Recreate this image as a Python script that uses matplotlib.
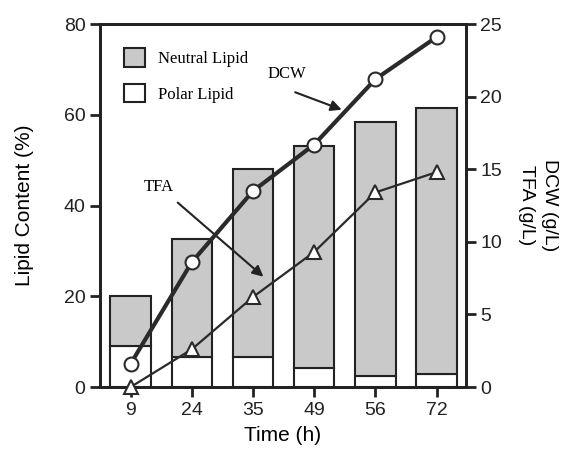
import matplotlib
matplotlib.use("Agg")
import matplotlib.pyplot as plt
import numpy as np
from matplotlib.patches import Patch

plt.rcParams['font.family'] = ['Liberation Sans', 'DejaVu Sans']

# data
times = ["9", "24", "35", "49", "56", "72"]
total_lipid = [20.0, 32.7, 48.0, 53.2, 58.5, 61.4]   # % (bar top)
polar_lipid = [9.1, 6.7, 6.7, 4.1, 2.4, 2.9]         # %
dcw = [1.6, 8.6, 13.5, 16.7, 21.2, 24.1]            # g/L
tfa = [0.0, 2.6, 6.2, 9.3, 13.4, 14.8]              # g/L

neutral_lipid = [t - p for t, p in zip(total_lipid, polar_lipid)]
x = np.arange(len(times))
ink = '#222222'

fig = plt.figure(figsize=(5.62, 4.49), dpi=100)
ax = fig.add_axes([0.178, 0.138, 0.651, 0.8085])
ax2 = ax.twinx()

ax.bar(x, polar_lipid, width=0.66, color='white', edgecolor=ink, linewidth=1.5, zorder=2)
ax.bar(x, neutral_lipid, width=0.66, bottom=polar_lipid, color='#c9c9c9',
       edgecolor=ink, linewidth=1.5, zorder=2)

ax2.plot(x, dcw, color='#2a2a2a', lw=3, marker='o', ms=10, mfc='white',
         mec='#2a2a2a', mew=1.5, zorder=5, clip_on=False)
ax2.plot(x, tfa, color='#2a2a2a', lw=1.6, marker='^', ms=10, mfc='white',
         mec='#2a2a2a', mew=1.5, zorder=5, clip_on=False)

ax.set_xlim(-0.5, 5.48)
ax.set_ylim(0, 80)
ax2.set_ylim(0, 25)
ax.set_xticks(x)
ax.set_xticklabels(times)
ax.set_yticks([0, 20, 40, 60, 80])
ax2.set_yticks([0, 5, 10, 15, 20, 25])

for a in (ax, ax2):
    for s in a.spines.values():
        s.set_linewidth(2)
        s.set_color(ink)
    a.tick_params(direction='out', length=7, width=2, labelsize=14, colors=ink)

ax.set_xlabel("Time (h)", fontsize=15, labelpad=5)
ax.set_ylabel("Lipid Content (%)", fontsize=15, labelpad=21)
ax2.set_ylabel("DCW (g/L)\nTFA (g/L)", fontsize=14, rotation=270, labelpad=40,
               linespacing=1.45)

# legend
handles = [Patch(facecolor='#c9c9c9', edgecolor=ink, lw=1.5, label='Neutral Lipid'),
           Patch(facecolor='white', edgecolor=ink, lw=1.5, label='Polar Lipid')]
ax.legend(handles=handles, loc='upper left', bbox_to_anchor=(0.024, 0.975), frameon=False,
          prop={'family': 'Liberation Serif', 'size': 12}, handlelength=1.25,
          handleheight=1.35, labelspacing=1.0, handletextpad=0.8)

# annotations
ax2.text(2.23, 21.0, "DCW", fontsize=12, family='Liberation Serif', ha='left', va='bottom')
ax2.annotate("", xy=(3.45, 19.1), xytext=(2.69, 20.3),
             arrowprops=dict(arrowstyle='-|>', color=ink, lw=1.5, mutation_scale=16,
                             shrinkA=0, shrinkB=0))
ax2.text(0.21, 13.2, "TFA", fontsize=12, family='Liberation Serif', ha='left', va='bottom')
ax2.annotate("", xy=(2.17, 7.6), xytext=(0.77, 12.7),
             arrowprops=dict(arrowstyle='-|>', color=ink, lw=1.5, mutation_scale=16,
                             shrinkA=0, shrinkB=0))

fig.savefig("out.png", dpi=100)
